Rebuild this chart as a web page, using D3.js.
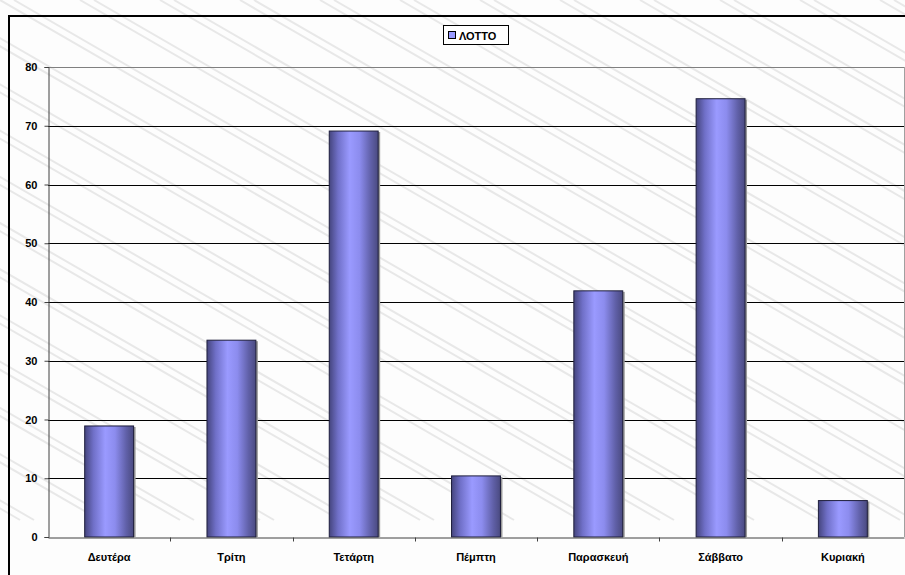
<!DOCTYPE html>
<meta charset="utf-8">
<style>
body { margin: 0; background: #fdfdfd; }
svg { display: block; font-family: "Liberation Sans", Arial, sans-serif; }
.tick text { font-size: 11px; font-weight: bold; fill: #000; }
</style>
<body>
<script src="https://cdn.jsdelivr.net/npm/d3@7"></script>
<svg id="chart" width="905" height="575"></svg>
<script>
var days = ["Δευτέρα", "Τρίτη", "Τετάρτη", "Πέμπτη", "Παρασκευή", "Σάββατο", "Κυριακή"];
var lotto = [18.9, 33.5, 69.1, 10.4, 41.9, 74.6, 6.2];
var yTicks = [0, 10, 20, 30, 40, 50, 60, 70, 80];
var seriesName = "ΛΟΤΤΟ";

var svg = d3.select("#chart");
var mLeft = 48, mRight = 904, mTop = 67, mBottom = 537;

// gradient for the cylinder look
var defs = svg.append("defs");
var grad = defs.append("linearGradient").attr("id", "barGrad")
  .attr("x1", "0%").attr("x2", "100%").attr("y1", "0%").attr("y2", "0%");
grad.append("stop").attr("offset", "0%").attr("stop-color", "#45457e");
grad.append("stop").attr("offset", "18%").attr("stop-color", "#7070c8");
grad.append("stop").attr("offset", "42%").attr("stop-color", "#9a9aff");
grad.append("stop").attr("offset", "62%").attr("stop-color", "#8c8cee");
grad.append("stop").attr("offset", "85%").attr("stop-color", "#6060a8");
grad.append("stop").attr("offset", "100%").attr("stop-color", "#4a4a80");

// faint background watermark strokes (decoration only)
var wm = svg.append("g").attr("fill", "none").attr("stroke", "#e8e8e8").attr("stroke-width", 2);
d3.range(-12, 12).forEach(function(i) {
  var x0 = i * 80;
  wm.append("path").attr("d", "M" + x0 + ",0 l900,520");
  wm.append("path").attr("d", "M" + (x0 + 14) + ",0 l900,520");
});

// outer frame
svg.append("path").attr("d", "M9,575 L9,16 L905,16")
  .attr("fill", "none").attr("stroke", "#000").attr("stroke-width", 2);

var x = d3.scaleBand().domain(days).range([mLeft, mRight]).paddingInner(0.6).paddingOuter(0.3);
var xt = d3.scaleBand().domain(days).range([mLeft, mRight]);
var y = d3.scaleLinear().domain([0, 80]).range([mBottom, mTop]);

// gridlines
svg.append("g").selectAll("line").data(yTicks.slice(1)).join("line")
  .attr("x1", mLeft).attr("x2", mRight)
  .attr("y1", function(d) { return Math.round(y(d)) + 0.5; })
  .attr("y2", function(d) { return Math.round(y(d)) + 0.5; })
  .attr("stroke", function(d) { return d === 80 ? "#808080" : "#000"; })
  .attr("stroke-width", 1);

// right plot border
svg.append("line").attr("x1", mRight + 0.5).attr("x2", mRight + 0.5)
  .attr("y1", mTop).attr("y2", mBottom).attr("stroke", "#a0a0a0");

// bars with a small shadow
var bars = svg.append("g");
bars.selectAll("rect.sh").data(lotto).join("rect").attr("class", "sh")
  .attr("x", function(d, i) { return x(days[i]) + 2; })
  .attr("y", function(d) { return y(d) + 1; })
  .attr("width", x.bandwidth())
  .attr("height", function(d) { return mBottom - y(d) - 1; })
  .attr("fill", "#9a9a9a");
bars.selectAll("rect.bar").data(lotto).join("rect").attr("class", "bar")
  .attr("x", function(d, i) { return x(days[i]); })
  .attr("y", function(d) { return y(d); })
  .attr("width", x.bandwidth())
  .attr("height", function(d) { return mBottom - y(d); })
  .attr("fill", "url(#barGrad)")
  .attr("stroke", "#1e1e3c").attr("stroke-width", 1);

// y axis
var yAxis = svg.append("g").attr("transform", "translate(" + (mLeft + 0.5) + ",0)")
  .call(d3.axisLeft(y).tickValues(yTicks).tickSize(4).tickPadding(7));
yAxis.selectAll("path, line").attr("stroke", "#404040");

// x axis
var xAxis = svg.append("g").attr("transform", "translate(0," + (mBottom + 0.5) + ")")
  .call(d3.axisBottom(xt).tickSize(0).tickPadding(16));
xAxis.select("path").attr("stroke", "#404040");
xAxis.selectAll("line.sep").data(days.slice(1)).join("line").attr("class", "sep")
  .attr("x1", function(d) { return Math.round(xt(d)) + 0.5; })
  .attr("x2", function(d) { return Math.round(xt(d)) + 0.5; })
  .attr("y1", 0).attr("y2", 4).attr("stroke", "#404040");

// legend
var lg = svg.append("g").attr("transform", "translate(443,25)");
lg.append("rect").attr("x", 0.5).attr("y", 0.5).attr("width", 65).attr("height", 19)
  .attr("fill", "#fff").attr("stroke", "#000");
lg.append("rect").attr("x", 5.5).attr("y", 6.5).attr("width", 7).attr("height", 7)
  .attr("fill", "#9a9aff").attr("stroke", "#000");
lg.append("text").attr("x", 16).attr("y", 14.5).attr("font-size", 11).attr("font-weight", "bold")
  .text(seriesName);
</script>
</body>
